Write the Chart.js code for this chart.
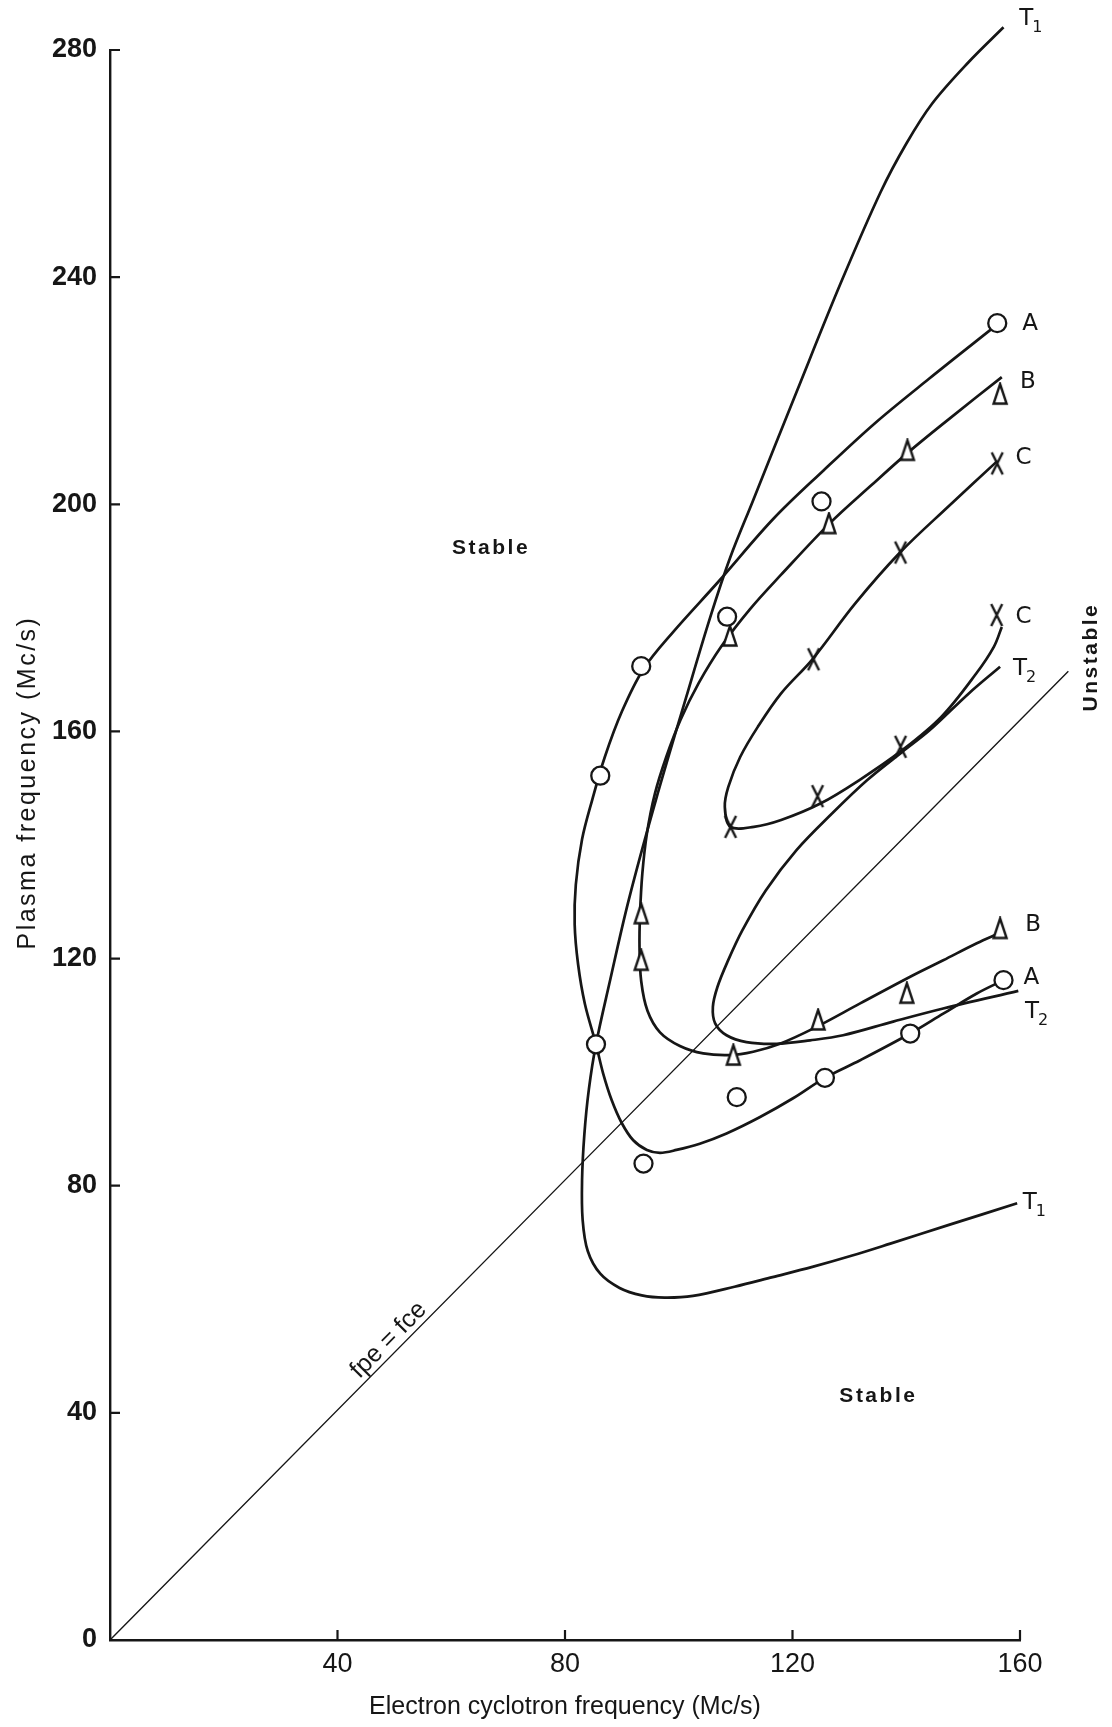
<!DOCTYPE html>
<html lang="en">
<head>
<meta charset="utf-8">
<title>Plasma frequency vs electron cyclotron frequency</title>
<script src="https://cdn.jsdelivr.net/npm/chart.js@4.4.1/dist/chart.umd.min.js"></script>
<style>
  html, body { margin: 0; padding: 0; background: #fff; }
  #box { width: 1112px; height: 1727px; }
</style>
</head>
<body>
<div id="box"><canvas id="chart" width="1112" height="1727"></canvas></div>
<script>
// axis ticks
const xTicks = [0, 40, 80, 120, 160];
const yTicks = [0, 40, 80, 120, 160, 200, 240, 280];

// measured points, [fce, fpe] in Mc/s
const pointsA = [[156.0, 231.9], [125.1, 200.5], [108.5, 180.2], [93.4, 171.5], [86.2, 152.2],
  [85.45, 104.9], [93.8, 83.9], [110.2, 95.6], [125.7, 99.0], [140.7, 106.8], [157.1, 116.2]];
const pointsB = [[156.5, 219.4], [140.2, 209.5], [126.4, 196.6], [109.0, 176.8], [93.4, 127.9],
  [93.4, 119.7], [109.6, 103.0], [124.5, 109.2], [140.1, 113.9], [156.5, 125.3]];
const pointsC = [[156.0, 207.2], [139.0, 191.5], [123.7, 172.7], [109.1, 143.2], [124.4, 148.6],
  [139.0, 157.3], [155.9, 180.5]];

// boundary curves
const curveA = [[155.8, 231.5], [144.0, 222.1], [134.4, 214.2], [125.5, 206.0], [116.6, 197.4],
  [107.0, 186.4], [99.0, 177.5], [93.8, 171.0], [90.0, 163.5], [87.0, 155.5], [84.8, 148.0],
  [83.0, 141.0], [81.9, 133.0], [81.7, 126.0], [82.3, 119.0], [83.5, 112.0], [85.45, 104.9],
  [86.7, 99.8], [88.2, 95.1], [90.0, 91.0], [92.0, 88.0], [94.4, 86.3], [96.7, 85.8], [99.6, 86.3],
  [103.7, 87.4], [108.4, 89.2], [114.3, 92.1], [120.1, 95.4], [125.7, 99.0], [131.9, 102.1],
  [140.7, 106.8], [146.5, 110.3], [152.4, 113.85], [157.1, 116.2]];
const curveB = [[156.8, 222.4], [147.5, 215.0], [140.3, 209.1], [133.7, 203.2], [126.5, 196.6],
  [118.0, 187.6], [112.5, 181.5], [107.5, 175.0], [103.5, 168.5], [100.3, 162.0], [97.8, 155.5],
  [95.8, 149.0], [94.4, 142.0], [93.6, 135.0], [93.2, 128.0], [93.1, 122.0], [93.4, 116.0],
  [94.5, 110.8], [96.7, 107.0], [100.2, 104.6], [104.3, 103.3], [109.0, 103.0], [113.1, 103.6],
  [117.8, 105.0], [123.7, 107.7], [131.9, 112.1], [140.7, 116.8], [146.5, 119.7], [152.4, 122.7],
  [156.4, 124.5]];
const curveC = [[156.0, 207.6], [147.5, 199.7], [138.9, 191.5], [131.0, 182.5], [123.5, 172.7],
  [118.0, 166.7], [113.9, 160.8], [110.8, 155.5], [108.7, 150.2], [108.1, 146.7], [109.1, 143.2],
  [113.2, 143.2], [118.0, 144.4], [124.9, 147.3], [131.7, 151.4], [139.3, 156.7], [146.2, 162.6],
  [152.3, 170.2], [155.4, 174.9], [156.8, 178.4]];
const curveT1 = [[157.1, 284.0], [150.9, 277.8], [144.5, 270.5], [140.0, 263.5], [135.5, 255.0],
  [128.5, 239.0], [120.8, 220.0], [113.0, 200.5], [109.0, 190.5], [105.5, 180.0], [101.3, 166.0],
  [96.0, 148.0], [91.2, 130.3], [87.8, 115.6], [85.45, 104.9], [84.2, 97.0], [83.4, 89.0],
  [83.0, 81.0], [83.1, 74.0], [84.0, 68.5], [86.2, 64.5], [89.6, 62.0], [93.5, 60.7], [97.5, 60.3],
  [102.5, 60.6], [109.8, 62.2], [116.5, 63.9], [123.5, 65.7], [130.5, 67.7], [137.2, 69.8],
  [147.5, 73.1], [159.5, 76.9]];
const curveT2 = [[156.5, 171.4], [151.0, 166.7], [144.1, 160.2], [139.3, 156.4], [133.1, 151.4],
  [126.9, 145.5], [120.7, 139.1], [115.3, 132.0], [111.2, 125.0], [108.6, 119.5], [106.8, 115.0],
  [106.0, 111.5], [106.4, 108.6], [108.4, 106.5], [111.9, 105.3], [117.2, 105.0], [123.1, 105.6],
  [128.9, 106.5], [137.7, 108.9], [146.5, 111.2], [159.7, 114.3]];
const lineFpeFce = [[0, 0], [168.5, 170.6]];

// text placed on the plot
const curveLabels = [
  { t: 'T', s: '1', x: 162.0, y: 285.5 }, { t: 'A', x: 161.8, y: 231.8 },
  { t: 'B', x: 161.4, y: 221.6 }, { t: 'C', x: 160.6, y: 208.1 },
  { t: 'C', x: 160.6, y: 180.2 }, { t: 'T', s: '2', x: 160.9, y: 171.0 },
  { t: 'B', x: 162.3, y: 125.9 }, { t: 'A', x: 162.0, y: 116.6 },
  { t: 'T', s: '2', x: 163.0, y: 110.6 }, { t: 'T', s: '1', x: 162.6, y: 77.0 }
];
const regionLabels = [
  { t: 'Stable', x: 67.0, y: 192.2, rot: 0 },
  { t: 'Stable', x: 135.1, y: 43.0, rot: 0 },
  { t: 'Unstable', x: 172.6, y: 173.1, rot: -90 }
];

const ink = '#161616';
const sans = "'Liberation Sans', Arial, sans-serif";
const plain = "'DejaVu Sans', 'Liberation Sans', sans-serif";

const xy = arr => arr.map(p => ({ x: p[0], y: p[1] }));

// hollow triangle and tall cross markers
function makeTriangle() {
  const c = document.createElement('canvas');
  c.width = 18; c.height = 24;
  const g = c.getContext('2d');
  g.fillStyle = '#fff';
  g.strokeStyle = ink;
  g.lineWidth = 2.4;
  g.beginPath();
  g.moveTo(9, 2); g.lineTo(15.5, 21.5); g.lineTo(2.5, 21.5); g.closePath();
  g.fill(); g.stroke();
  return c;
}
function makeCross() {
  const c = document.createElement('canvas');
  c.width = 16; c.height = 26;
  const g = c.getContext('2d');
  g.strokeStyle = ink;
  g.lineWidth = 2.4;
  g.beginPath();
  g.moveTo(2.5, 2); g.lineTo(13.5, 24);
  g.moveTo(13.5, 2); g.lineTo(2.5, 24);
  g.stroke();
  return c;
}

function markerSet(label, pts, style) {
  return {
    label: label, data: xy(pts), showLine: false, order: 0,
    pointStyle: style, pointRadius: 9, pointBorderWidth: 2.3,
    pointBorderColor: ink, pointBackgroundColor: '#fff', clip: false
  };
}
function curveSet(label, pts, width) {
  return {
    label: label, data: xy(pts), showLine: true, order: 1,
    borderColor: ink, borderWidth: width || 2.7, pointRadius: 0,
    tension: 0.35, fill: false, clip: false
  };
}

const decor = {
  id: 'decor',
  afterDraw(chart) {
    const { ctx, scales: { x, y } } = chart;
    ctx.save();

    // tick marks point into the plot
    ctx.strokeStyle = ink;
    ctx.lineWidth = 2.2;
    ctx.beginPath();
    yTicks.slice(1).forEach(v => {
      const py = y.getPixelForValue(v);
      ctx.moveTo(x.left, py);
      ctx.lineTo(x.left + 10, py);
    });
    xTicks.slice(1).forEach(v => {
      const px = x.getPixelForValue(v);
      ctx.moveTo(px, y.bottom);
      ctx.lineTo(px, y.bottom - 10);
    });
    ctx.stroke();

    ctx.fillStyle = ink;
    ctx.textBaseline = 'middle';

    // y axis title, letter-spaced like the original lettering
    ctx.save();
    ctx.translate(28, y.getPixelForValue(151));
    ctx.rotate(-Math.PI / 2);
    ctx.font = '25px ' + sans;
    ctx.letterSpacing = '2.5px';
    ctx.textAlign = 'center';
    ctx.fillText('Plasma frequency (Mc/s)', 0, 0);
    ctx.restore();

    // curve names at the line ends
    curveLabels.forEach(l => {
      const px = x.getPixelForValue(l.x);
      const py = y.getPixelForValue(l.y);
      ctx.font = '23px ' + plain;
      const w = ctx.measureText(l.t).width;
      let sw = 0;
      if (l.s) {
        ctx.font = '16px ' + plain;
        sw = ctx.measureText(l.s).width;
      }
      const left = px - (w + sw) / 2;
      ctx.textAlign = 'left';
      ctx.font = '23px ' + plain;
      ctx.fillText(l.t, left, py);
      if (l.s) {
        ctx.font = '16px ' + plain;
        ctx.fillText(l.s, left + w - 1, py + 9);
      }
    });

    // region names
    ctx.font = 'bold 21px ' + sans;
    ctx.letterSpacing = '2.5px';
    ctx.textAlign = 'center';
    regionLabels.forEach(l => {
      ctx.save();
      ctx.translate(x.getPixelForValue(l.x), y.getPixelForValue(l.y));
      ctx.rotate(l.rot * Math.PI / 180);
      ctx.fillText(l.t, 0, 0);
      ctx.restore();
    });
    ctx.letterSpacing = '0px';

    // label along the fpe = fce line
    const x0 = x.getPixelForValue(lineFpeFce[0][0]), y0 = y.getPixelForValue(lineFpeFce[0][1]);
    const x1 = x.getPixelForValue(lineFpeFce[1][0]), y1 = y.getPixelForValue(lineFpeFce[1][1]);
    const ang = Math.atan2(y1 - y0, x1 - x0);
    ctx.save();
    ctx.translate(x.getPixelForValue(49.0), y.getPixelForValue(52.8));
    ctx.rotate(ang);
    ctx.font = '25px ' + sans;
    ctx.fillText('fpe = fce', 0, 0);
    ctx.restore();

    ctx.restore();
  }
};

new Chart(document.getElementById('chart'), {
  type: 'scatter',
  data: {
    datasets: [
      markerSet('A points', pointsA, 'circle'),
      markerSet('B points', pointsB, makeTriangle()),
      markerSet('C points', pointsC, makeCross()),
      curveSet('A', curveA),
      curveSet('B', curveB),
      curveSet('C', curveC),
      curveSet('T1', curveT1),
      curveSet('T2', curveT2),
      curveSet('fpe = fce', lineFpeFce, 1.4)
    ]
  },
  options: {
    responsive: false,
    animation: false,
    events: [],
    layout: { padding: { top: 50, right: 92, left: 0, bottom: 0 } },
    elements: { line: { capBezierPoints: false } },
    plugins: { legend: { display: false }, tooltip: { enabled: false } },
    scales: {
      x: {
        type: 'linear', min: 0, max: 160,
        afterFit: s => { s.height = 87; },
        grid: { display: false, drawTicks: false },
        border: { display: true, color: ink, width: 2.4 },
        ticks: {
          stepSize: 40, padding: 8, color: ink, maxRotation: 0, autoSkip: false,
          font: { family: sans, size: 27 },
          callback: v => (v === 0 ? '' : v)
        },
        title: {
          display: true, text: 'Electron cyclotron frequency (Mc/s)', color: ink,
          font: { family: sans, size: 25 }, padding: { top: 0, bottom: 5 }
        }
      },
      y: {
        type: 'linear', min: 0, max: 280,
        afterFit: s => { s.width = 110; },
        grid: { display: false, drawTicks: false },
        border: { display: true, color: ink, width: 2.4 },
        ticks: {
          stepSize: 40, padding: 13, color: ink, autoSkip: false,
          font: { family: sans, size: 27, weight: 'bold' }
        },
        title: { display: false }
      }
    }
  },
  plugins: [decor]
});
</script>
</body>
</html>
